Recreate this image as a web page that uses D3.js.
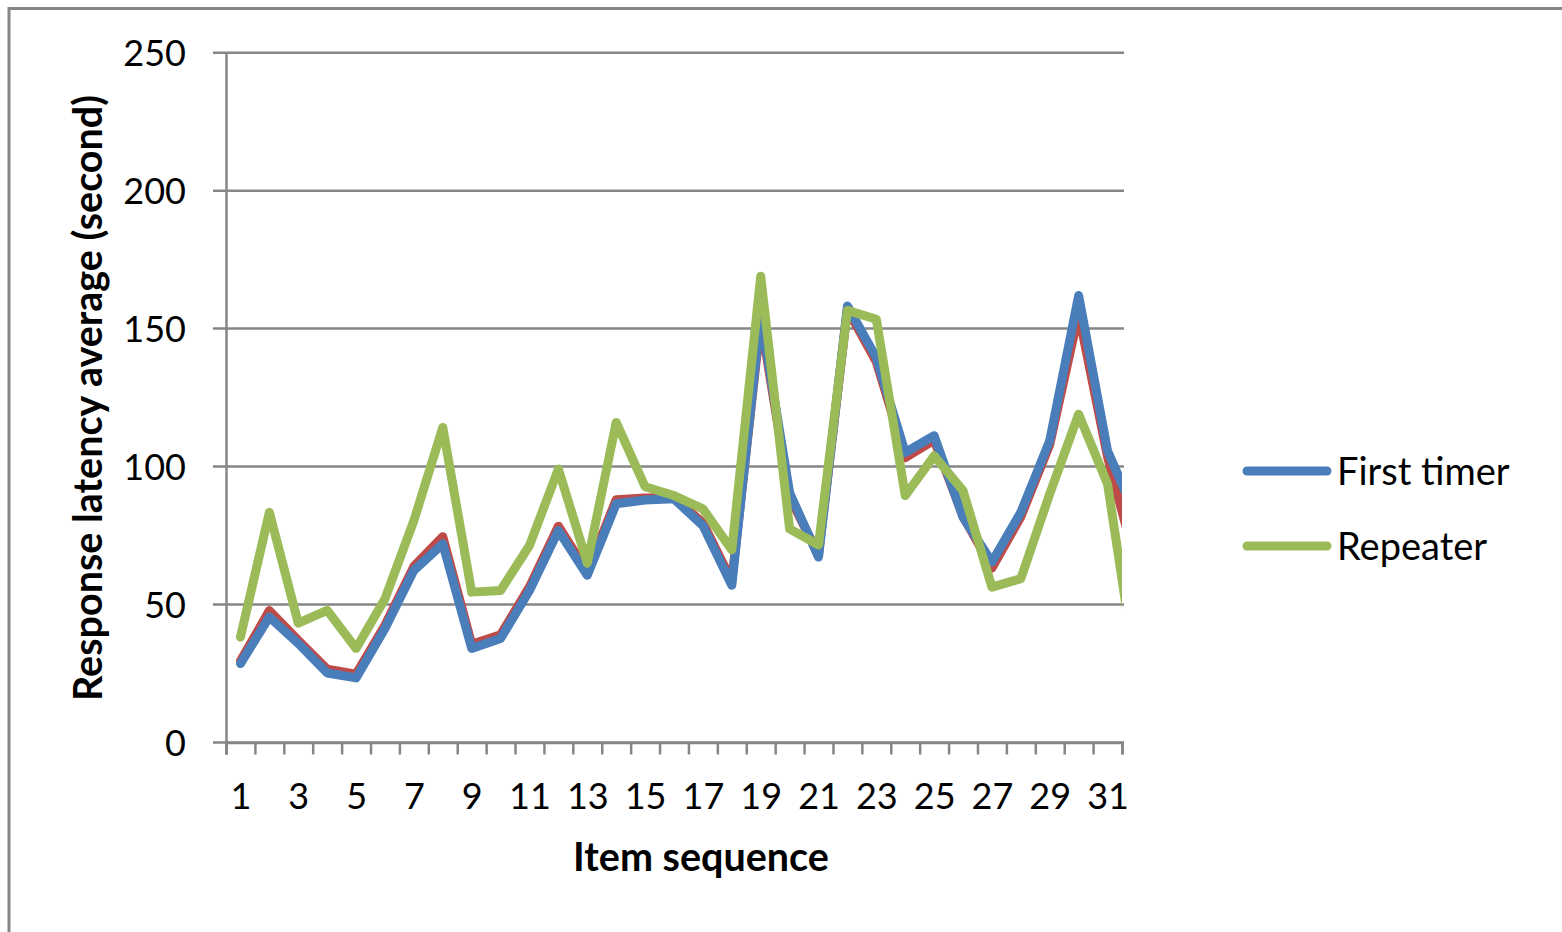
<!DOCTYPE html>
<html>
<head>
<meta charset="utf-8">
<script src="https://cdn.jsdelivr.net/npm/d3@7"></script>
<style>
  html, body { margin: 0; padding: 0; background: #ffffff; }
  svg { display: block; }
  text { font-family: Lato, "Open Sans", sans-serif; fill: #000; }
</style>
</head>
<body>
<svg id="chart" width="1562" height="932"></svg>
<script>
// Item sequence numbers (the last point runs past the axis end and is clipped)
const items = d3.range(1, 33);

// Average response latency per item, in seconds
const firstTimer = [28.6, 45.5, 35.9, 25.2, 23.4, 41.3, 62.4, 72.0, 34.1, 37.7,
                    55.1, 76.8, 60.6, 86.5, 87.9, 88.3, 78.6, 57.0, 155.0, 90.5,
                    67.2, 158.2, 139.5, 105.1, 111.2, 81.6, 65.4, 83.4, 109.4, 162.0,
                    105.7, 81.7];
const repeater   = [38.2, 83.4, 43.3, 47.9, 34.1, 52.1, 80.4, 114.2, 54.5, 55.1,
                    71.4, 99.1, 65.0, 116.0, 92.7, 89.5, 84.7, 69.8, 169.0, 77.4,
                    71.6, 156.6, 153.4, 89.5, 103.9, 91.3, 56.3, 59.4, 90.1, 119.0,
                    93.7, 24.7];
// Series without a legend entry, drawn beneath the first-timer line
const combined   = [29.5, 47.8, 37.0, 26.6, 24.8, 42.5, 63.8, 74.6, 35.6, 39.0,
                    56.4, 78.4, 61.8, 88.0, 88.6, 88.8, 79.6, 58.4, 153.0, 89.0,
                    68.0, 157.0, 138.0, 103.2, 109.6, 82.0, 63.2, 81.8, 108.0, 155.5,
                    103.5, 64.0];

const yTicks = [0, 50, 100, 150, 200, 250];
const xLabels = d3.range(1, 32, 2);
const legendNames = ["First timer", "Repeater"];

const colors = { first: "#4A7EBB", repeat: "#9BBB59", combined: "#BE4B48", grid: "#868686" };

const svg = d3.select("#chart");

// Outer chart frame
svg.append("path")
  .attr("d", "M9,932 L9,8.5 L1562,8.5")
  .attr("fill", "none")
  .attr("stroke", colors.grid)
  .attr("stroke-width", 3);

const x = d3.scaleLinear().domain([0.5, 31.5]).range([226, 1122]);
const y = d3.scaleLinear().domain([0, 250]).range([742.5, 52.7]);

// Horizontal gridlines with their short left tick extension
svg.append("g")
  .selectAll("line")
  .data(yTicks)
  .join("line")
  .attr("x1", 213).attr("x2", 1124)
  .attr("y1", d => y(d)).attr("y2", d => y(d))
  .attr("stroke", colors.grid)
  .attr("stroke-width", 2.5);

// Y axis line
svg.append("line")
  .attr("x1", 226.5).attr("x2", 226.5)
  .attr("y1", y(250)).attr("y2", y(0) + 12)
  .attr("stroke", colors.grid)
  .attr("stroke-width", 2.5);

// X axis: tick marks at category boundaries
const tickAxis = d3.axisBottom(x)
  .tickValues(d3.range(0.5, 32, 1))
  .tickSize(12)
  .tickFormat("");
const gTicks = svg.append("g")
  .attr("transform", `translate(0,${y(0)})`)
  .call(tickAxis);
gTicks.select(".domain").attr("stroke", colors.grid).attr("stroke-width", 2.5);
gTicks.selectAll(".tick line").attr("stroke", colors.grid).attr("stroke-width", 2.5);

// X axis labels on every other item
const labelAxis = d3.axisBottom(x).tickValues(xLabels).tickSize(0).tickPadding(0);
const gLabels = svg.append("g")
  .attr("transform", `translate(0,${y(0)})`)
  .call(labelAxis);
gLabels.select(".domain").remove();
gLabels.selectAll(".tick text")
  .attr("y", 66)
  .attr("dy", null)
  .attr("font-size", 36)
  .style("font-family", "Lato, 'Open Sans', sans-serif")
  .attr("fill", "#000");

// Y axis labels
const yAxis = d3.axisLeft(y).tickValues(yTicks).tickSize(0).tickPadding(0);
const gY = svg.append("g").attr("transform", "translate(186,0)").call(yAxis);
gY.select(".domain").remove();
gY.selectAll(".tick text")
  .attr("x", 0)
  .attr("dy", "0.36em")
  .attr("font-size", 36)
  .style("font-family", "Lato, 'Open Sans', sans-serif")
  .attr("fill", "#000");

// Plot clip so lines stop at the end of the category axis
svg.append("defs").append("clipPath").attr("id", "plot-clip")
  .append("rect").attr("x", 226).attr("y", 0).attr("width", 1122 - 226).attr("height", 932);

const line = d3.line()
  .x((d, i) => x(items[i]))
  .y(d => y(d));

const plot = svg.append("g").attr("clip-path", "url(#plot-clip)");
[[combined, colors.combined], [firstTimer, colors.first], [repeater, colors.repeat]]
  .forEach(([vals, col]) => {
    plot.append("path")
      .datum(vals)
      .attr("d", line)
      .attr("fill", "none")
      .attr("stroke", col)
      .attr("stroke-width", 9)
      .attr("stroke-linejoin", "round")
      .attr("stroke-linecap", "round");
  });

// Axis titles
svg.append("text")
  .attr("transform", "translate(102,398) rotate(-90)")
  .attr("text-anchor", "middle")
  .attr("font-size", 39.5)
  .attr("font-weight", "bold")
  .text("Response latency average (second)");

svg.append("text")
  .attr("x", 701)
  .attr("y", 871)
  .attr("text-anchor", "middle")
  .attr("font-size", 39.5)
  .attr("font-weight", "bold")
  .text("Item sequence");

// Legend
const legend = svg.append("g");
const legendColors = [colors.first, colors.repeat];
const legendY = [471, 546];
legendNames.forEach((name, i) => {
  legend.append("line")
    .attr("x1", 1247).attr("x2", 1327)
    .attr("y1", legendY[i]).attr("y2", legendY[i])
    .attr("stroke", legendColors[i])
    .attr("stroke-width", 9)
    .attr("stroke-linecap", "round");
  legend.append("text")
    .attr("x", 1337)
    .attr("y", legendY[i])
    .attr("dy", "0.36em")
    .attr("font-size", 38)
    .text(name);
});
</script>
</body>
</html>
